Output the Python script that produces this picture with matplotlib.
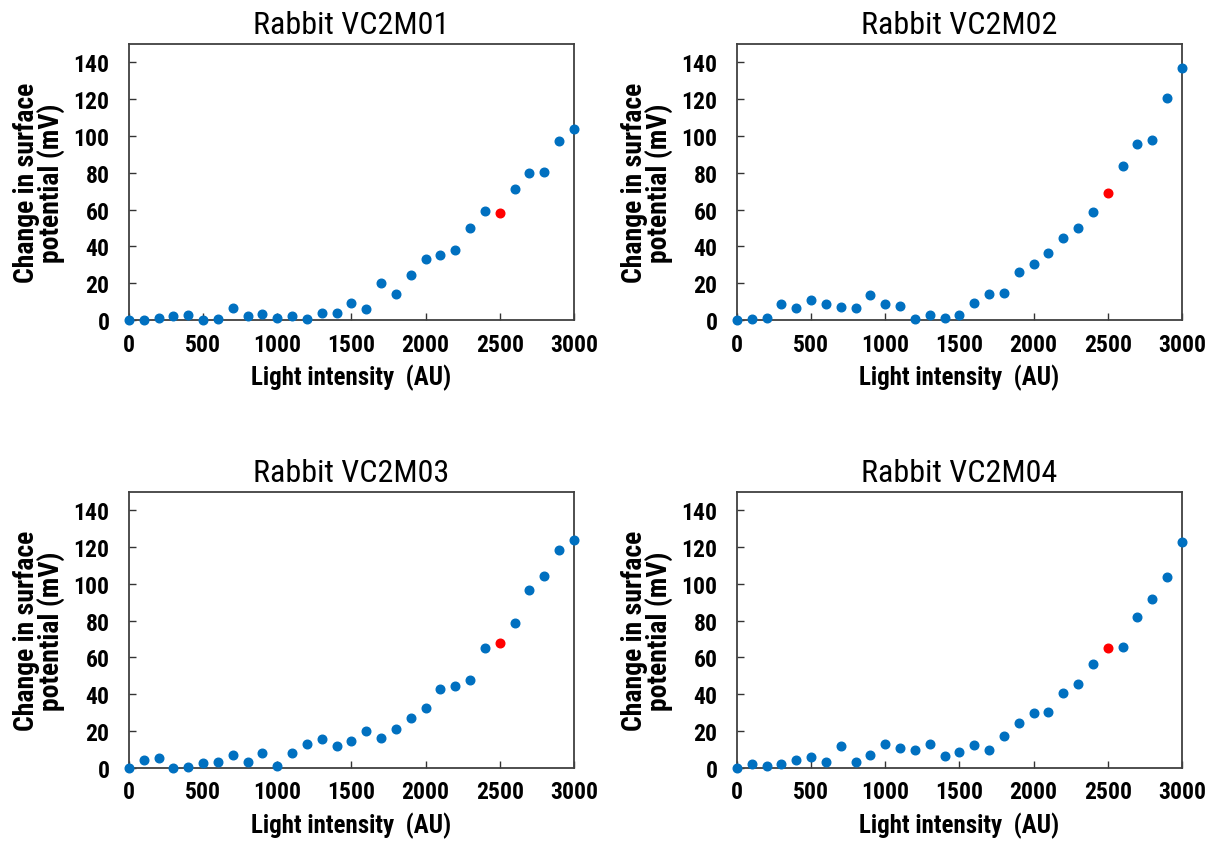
import numpy as np
import matplotlib
matplotlib.use("Agg")
import matplotlib.pyplot as plt

plt.rcParams['font.family'] = ['Roboto Condensed', 'Liberation Sans', 'DejaVu Sans']

# light intensity steps (AU)
intensity = np.arange(0, 3100, 100)

titles = ["Rabbit VC2M01", "Rabbit VC2M02", "Rabbit VC2M03", "Rabbit VC2M04"]

# change in surface potential (mV) per rabbit
vc2m01 = [0, 0, 1.4, 2.2, 2.7, 0, 0.7, 6.7, 2.2, 3.3, 1.4, 2.0, 0.5, 4.0, 4.0, 9.2,
          6.0, 19.9, 13.9, 24.6, 33.3, 35.3, 38.0, 49.9, 59.1, 57.9, 71.1, 79.7, 80.5,
          97.1, 103.6]
vc2m02 = [0, 0.7, 1.4, 8.5, 6.7, 10.7, 8.5, 7.2, 6.7, 13.4, 8.5, 7.4, 0.5, 2.7, 1.4,
          2.7, 9.2, 13.9, 14.6, 25.9, 30.6, 36.5, 44.5, 49.9, 58.6, 69.1, 83.7, 95.8,
          97.8, 120.4, 136.9]
vc2m03 = [0, 4.5, 5.3, 0, 0.7, 2.5, 3.3, 7.2, 3.3, 8.0, 1.3, 8.0, 13.2, 15.9, 12.0,
          14.5, 19.9, 16.5, 21.4, 27.2, 32.4, 42.6, 44.6, 47.8, 65.2, 67.9, 78.6, 96.6,
          104.0, 118.5, 123.9]
vc2m04 = [0, 2.0, 1.3, 2.0, 4.5, 6.0, 3.3, 12.0, 3.3, 7.2, 13.2, 10.7, 10.0, 13.2, 6.5,
          8.5, 12.7, 10.0, 17.2, 24.6, 29.9, 30.6, 40.6, 45.8, 56.5, 64.9, 65.9, 81.9,
          91.8, 103.8, 122.5]
series = [vc2m01, vc2m02, vc2m03, vc2m04]

# the 2500 AU point is highlighted in red
highlight = 2500

fig = plt.figure(figsize=(12.16, 8.45), dpi=100)
positions = [
    [0.106, 0.620, 0.366, 0.327],
    [0.606, 0.620, 0.366, 0.327],
    [0.106, 0.090, 0.366, 0.327],
    [0.606, 0.090, 0.366, 0.327],
]

for pos, title, y in zip(positions, titles, series):
    ax = fig.add_axes(pos)
    y = np.array(y)
    mask = intensity == highlight
    ax.plot(intensity[~mask], y[~mask], 'o', color='#0070C0', markersize=6.2,
            clip_on=False, zorder=3)
    ax.plot(intensity[mask], y[mask], 'o', color='#FF0000', markersize=6.2,
            clip_on=False, zorder=3)

    ax.set_xlim(0, 3000)
    ax.set_ylim(0, 150)
    ax.set_xticks(np.arange(0, 3001, 500))
    ax.set_yticks(np.arange(0, 141, 20))
    ax.tick_params(direction='in', length=5, width=1, color='#333333', labelsize=17)
    ax.tick_params(axis='x', pad=9)
    ax.tick_params(axis='y', pad=14)
    for lab in ax.get_xticklabels() + ax.get_yticklabels():
        lab.set_fontweight('bold')
    for sp in ax.spines.values():
        sp.set_color('#404040')
        sp.set_linewidth(1.3)

    ax.set_title(title, fontsize=23, pad=8)
    ax.set_xlabel("Light intensity  (AU)", fontsize=18, fontweight='bold', labelpad=6)
    ax.set_ylabel("Change in surface\npotential (mV)", fontsize=20,
                  fontweight='bold', labelpad=6, linespacing=0.88)

fig.savefig("out.png", dpi=100)
